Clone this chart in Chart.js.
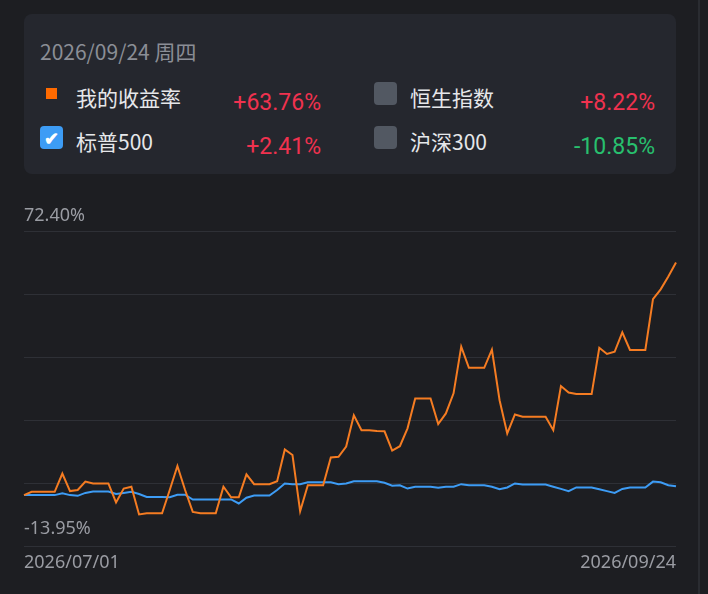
<!DOCTYPE html>
<html>
<head>
<meta charset="utf-8">
<script src="https://cdn.jsdelivr.net/npm/chart.js@4"></script>
<style>
  body { margin: 0; background: #1d1e22; font-family: "Noto Sans CJK SC", "Noto Sans", sans-serif; }
  #wrap { position: relative; width: 708px; height: 594px; overflow: hidden; }
  canvas { position: absolute; left: 0; top: 0; }
  .panel { position: absolute; left: 24px; top: 14px; width: 652px; height: 160px; background: #25272e; border-radius: 8px; }
  .date { position: absolute; left: 16px; top: 22px; font-size: 21px; color: #8b8e96; font-family: "Liberation Sans Narrow", "Noto Sans CJK SC", sans-serif; }
  .row { position: absolute; font-size: 21px; color: #e6e7ea; }
  .val { position: absolute; font-size: 23px; text-align: right; width: 120px; font-family: "Liberation Sans Narrow", "Roboto", sans-serif; }
  .up { color: #f0324f; }
  .down { color: #28c06e; }
  .box { position: absolute; width: 23px; height: 23px; border-radius: 4px; background: #525862; }
  .rside { position: absolute; left: 698px; top: 0; width: 2px; height: 594px; background: #2a2c31; }
</style>
</head>
<body>
<div id="wrap">
  <canvas id="c" width="708" height="594"></canvas>
  <div class="rside"></div>
  <div class="panel" id="panel"></div>
</div>
<script>
const dates = []
for (let d = new Date(Date.UTC(2026, 6, 1)); d <= new Date(Date.UTC(2026, 8, 24)); d.setUTCDate(d.getUTCDate() + 1)) {
  dates.push(d.toISOString().slice(0, 10).replace(/-/g, '/'))
}

const myReturn = [0, 0.9, 0.9, 0.9, 0.9, 5.9, 1.1, 1.4, 3.7, 3.2, 3.2, 3.2, -2.0, 1.8, 2.3, -5.3, -5.0, -5.0, -5.0, 1.4,
  8.0, 1.4, -4.6, -5.0, -5.0, -5.0, 2.3, -0.6, -0.6, 5.7, 3.0, 3.0, 3.0, 3.8, 12.5, 11.0, -4.4, 2.7, 2.7, 2.7,
  10.3, 10.5, 13.3, 21.9, 17.8, 17.8, 17.6, 17.5, 12.2, 13.4, 18.3, 26.5, 26.5, 26.5, 19.5, 22.4, 27.9, 40.7, 34.9, 34.9,
  34.9, 39.9, 26.0, 16.9, 22.1, 21.5, 21.5, 21.5, 21.5, 17.8, 29.9, 28.1, 27.7, 27.7, 27.7, 40.4, 38.7, 39.3, 44.6, 39.8,
  39.8, 39.8, 53.7, 56.4, 59.9, 63.76]
const sp500 = [0, 0, 0, 0, 0, 0.5, 0, -0.2, 0.6, 1.0, 1.0, 1.0, 0.3, 0.6, 0.9, 0.3, -0.5, -0.5, -0.5, -0.6,
  0.1, 0.1, -1.2, -1.2, -1.2, -1.2, -1.2, -1.2, -2.3, -0.7, -0.1, -0.1, -0.1, 1.4, 3.2, 3.0, 3.0, 3.5, 3.5, 3.5,
  3.5, 3.0, 3.2, 3.8, 3.8, 3.8, 3.8, 3.4, 2.6, 2.7, 1.8, 2.3, 2.3, 2.3, 2.0, 2.3, 2.3, 3.0, 2.7, 2.7,
  2.7, 2.3, 1.6, 2.1, 3.2, 2.9, 2.9, 2.9, 2.9, 2.3, 1.7, 1.1, 2.1, 2.1, 2.1, 1.6, 1.1, 0.6, 1.7, 2.1,
  2.1, 2.1, 3.7, 3.5, 2.7, 2.41]

const yMin = -13.95
const yMax = 72.40
const yTickLabels = ['72.40%', '-13.95%']
const xTickLabels = ['2026/07/01', '2026/09/24']

const legendNames = ['我的收益率', '恒生指数', '标普500', '沪深300']
const legendValues = ['+63.76%', '+8.22%', '+2.41%', '-10.85%']

// legend panel
const panel = document.getElementById('panel')
panel.innerHTML = `<div class="date">2026/09/24 周四</div>` +
  `<div style="position:absolute;left:22px;top:74px;width:11px;height:11px;background:#ff6a00"></div>` +
  `<div class="box" style="left:16px;top:112px;background:#3d9cf5;color:#fff;font-size:18px;font-weight:bold;line-height:23px;text-align:center">✔</div>` +
  `<div class="box" style="left:350px;top:68px"></div>` +
  `<div class="box" style="left:350px;top:112px"></div>` +
  `<div class="row" style="left:52px;top:68px">${legendNames[0]}</div>` +
  `<div class="row" style="left:386px;top:68px">${legendNames[1]}</div>` +
  `<div class="row" style="left:52px;top:112px">${legendNames[2]}</div>` +
  `<div class="row" style="left:386px;top:112px">${legendNames[3]}</div>` +
  `<div class="val up" style="left:177px;top:75px">${legendValues[0]}</div>` +
  `<div class="val up" style="left:511px;top:75px">${legendValues[1]}</div>` +
  `<div class="val up" style="left:177px;top:119px">${legendValues[2]}</div>` +
  `<div class="val down" style="left:511px;top:119px">${legendValues[3]}</div>`

// axis labels drawn from the scales
const edgeLabels = {
  id: 'edgeLabels',
  afterDraw(chart) {
    const { ctx, chartArea, scales } = chart
    ctx.save()
    ctx.fillStyle = '#9a9ca3'
    ctx.font = '18px "Liberation Sans Narrow", "Noto Sans", sans-serif'
    ctx.textBaseline = 'bottom'
    ctx.textAlign = 'left'
    ctx.fillText(yTickLabels[0], chartArea.left, scales.y.getPixelForValue(yMax) - 6)
    ctx.fillText(yTickLabels[1], chartArea.left, scales.y.getPixelForValue(yMin) - 8)
    ctx.textBaseline = 'top'
    ctx.fillText(xTickLabels[0], chartArea.left, chartArea.bottom + 8)
    ctx.textAlign = 'right'
    ctx.fillText(xTickLabels[1], chartArea.right, chartArea.bottom + 8)
    ctx.restore()
  }
}

new Chart(document.getElementById('c'), {
  type: 'line',
  data: {
    labels: dates,
    datasets: [
      { data: myReturn, borderColor: '#f57c22', borderWidth: 2, pointRadius: 0, tension: 0 },
      { data: sp500, borderColor: '#3d9cf5', borderWidth: 2, pointRadius: 0, tension: 0 },
    ]
  },
  options: {
    responsive: false,
    animation: false,
    layout: { padding: { left: 24, right: 32, top: 231, bottom: 48 } },
    plugins: { legend: { display: false }, tooltip: { enabled: false } },
    scales: {
      x: { display: false, offset: false },
      y: {
        min: yMin, max: yMax,
        afterBuildTicks: (axis) => {
          axis.ticks = [0, 1, 2, 3, 4, 5].map(i => ({ value: yMin + (yMax - yMin) * i / 5 }))
        },
        ticks: { display: false },
        border: { display: false },
        grid: { color: '#2e3036', lineWidth: 1, drawTicks: false }
      }
    }
  },
  plugins: [edgeLabels]
})
</script>
</body>
</html>
